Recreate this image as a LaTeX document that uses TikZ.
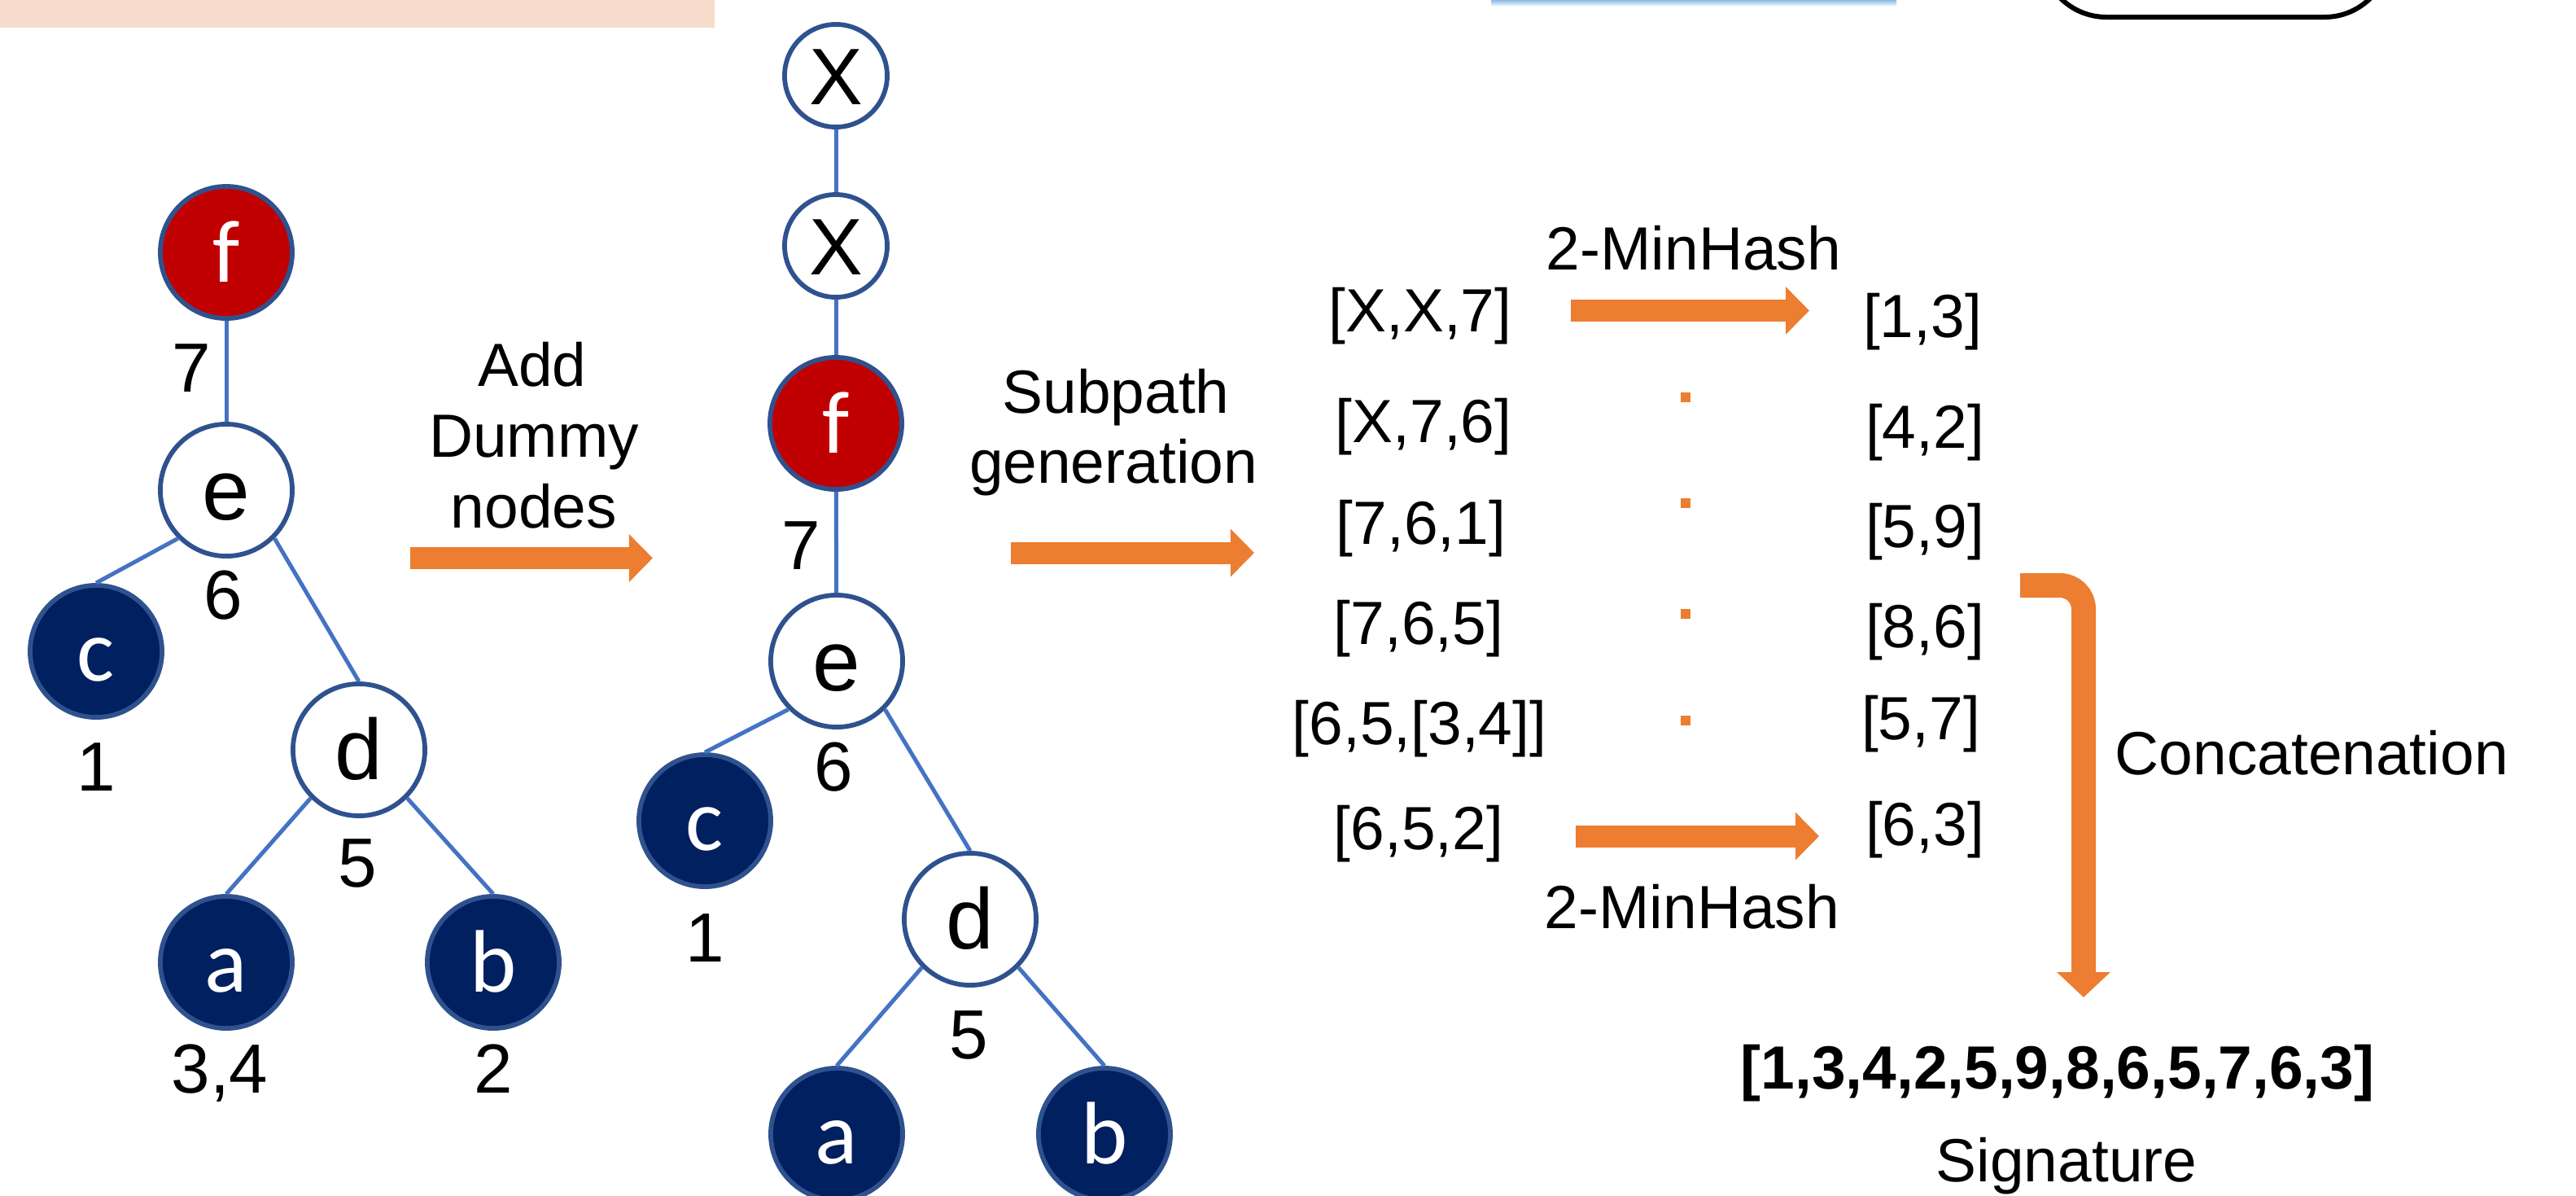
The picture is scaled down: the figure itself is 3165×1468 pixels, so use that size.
\documentclass[tikz,border=0pt]{standalone}
\usepackage{fontspec}
\setmainfont{Liberation Sans}
\newfontfamily\calfont{Carlito}
\usetikzlibrary{arrows.meta}
\definecolor{navy}{HTML}{002060}
\definecolor{nodeedge}{HTML}{2F528F}
\definecolor{darkred}{HTML}{C00000}
\definecolor{edgeblue}{HTML}{4472C4}
\definecolor{orng}{HTML}{ED7D31}
\definecolor{peach}{HTML}{F8DCCB}
\definecolor{blurblue}{HTML}{8DBBE3}
\tikzset{
  tnode/.style={circle, draw=nodeedge, line width=0.058cm, minimum size=1.62cm, inner sep=0pt, text height=0.72cm, text depth=0pt},
  leafnode/.style={tnode, fill=navy, text=white, font=\calfont\fontsize{31}{31}\selectfont},
  rootnode/.style={tnode, fill=darkred, text=white, font=\calfont\fontsize{31}{31}\selectfont},
  innernode/.style={tnode, fill=white, font=\fontsize{30}{30}\selectfont},
  dummynode/.style={tnode, fill=white, minimum size=1.26cm, text height=0.70cm, font=\fontsize{28}{28}\selectfont},
  link/.style={draw=edgeblue, line width=0.05cm},
  lbl/.style={anchor=base, inner sep=0pt, font=\fontsize{24.3}{24.3}\selectfont},
  txt/.style={anchor=base, inner sep=0pt, font=\fontsize{21.3}{25}\selectfont},
  btxt/.style={anchor=base, inner sep=0pt, font=\bfseries\fontsize{21.3}{25}\selectfont},
  blockarrow/.style={draw=orng, line width=0.27cm, -{Triangle[length=0.29cm, width=0.57cm]}},
  dotmark/.style={fill=orng},
}
\begin{document}
\begin{tikzpicture}[x=0.01cm, y=-0.01cm]
\useasboundingbox (0,0) rectangle (3165,1468);
\clip (0,0) rectangle (3165,1468);

% top cut-off fragments
\fill[peach] (0,0) rectangle (878,34);
\shade[top color=blurblue, bottom color=white] (1832,0) rectangle (2330,8);
\draw[black, line width=0.06cm, rounded corners=0.8cm] (2508,-200) rectangle (2936,21);

% ---------- left tree ----------
\node[rootnode]  (f1) at (278,310) {f};
\node[innernode] (e1) at (278,602) {e};
\node[leafnode]  (c1) at (118,800) {c};
\node[innernode] (d1) at (441,921) {d};
\node[leafnode]  (a1) at (278,1182) {a};
\node[leafnode]  (b1) at (606,1182) {b};
\draw[link] (f1) -- (e1);
\draw[link] (e1.south west) -- (c1.north);
\draw[link] (e1.south east) -- (d1.north);
\draw[link] (d1.south west) -- (a1.north);
\draw[link] (d1.south east) -- (b1.north);
\node[lbl] (l7a) at (235,481) {7};
\node[lbl] (l6a) at (274,760) {6};
\node[lbl] (l1a) at (118,971) {1};
\node[lbl] (l5a) at (439,1089) {5};
\node[lbl] (l34a) at (270,1342) {3,4};
\node[lbl] (l2a) at (606,1342) {2};

% ---------- Add dummy nodes ----------
\node[txt] (add1) at (654,474) {Add};
\node[txt] (add2) at (656,561) {Dummy};
\node[txt] (add3) at (656,648) {nodes};
\coordinate (ar1s) at (504,685.5);
\coordinate (ar1t) at (802,685.5);
\draw[blockarrow] (ar1s) -- (ar1t);

% ---------- middle tree ----------
\node[dummynode] (x1) at (1027,93) {X};
\node[dummynode] (x2) at (1027,302) {X};
\node[rootnode]  (f2) at (1027,520) {f};
\node[innernode] (e2) at (1028,812) {e};
\node[leafnode]  (c2) at (866,1008) {c};
\node[innernode] (d2) at (1192,1129) {d};
\node[leafnode]  (a2) at (1028,1393) {a};
\node[leafnode]  (b2) at (1357,1393) {b};
\draw[link] (x1) -- (x2);
\draw[link] (x2) -- (f2);
\draw[link] (f2) -- (e2);
\draw[link] (e2.south west) -- (c2.north);
\draw[link] (e2.south east) -- (d2.north);
\draw[link] (d2.south west) -- (a2.north);
\draw[link] (d2.south east) -- (b2.north);
\node[lbl] (l7b) at (984,699) {7};
\node[lbl] (l6b) at (1024,971) {6};
\node[lbl] (l1b) at (866,1181) {1};
\node[lbl] (l5b) at (1190,1300) {5};

% ---------- Subpath generation ----------
\node[txt] (sub1) at (1371,507) {Subpath};
\node[txt] (sub2) at (1368,593) {generation};
\coordinate (ar2s) at (1242,679);
\coordinate (ar2t) at (1541,679);
\draw[blockarrow] (ar2s) -- (ar2t);

% ---------- subpaths ----------
\node[txt] (p1) at (1745,407) {[X,X,7]};
\node[txt] (p2) at (1749,543) {[X,7,6]};
\node[txt] (p3) at (1746,668) {[7,6,1]};
\node[txt] (p4) at (1743,791) {[7,6,5]};
\node[txt] (p5) at (1744,914) {[6,5,[3,4]]};
\node[txt] (p6) at (1743,1043) {[6,5,2]};

\node[txt] (h1) at (2362,414) {[1,3]};
\node[txt] (h2) at (2365,550) {[4,2]};
\node[txt] (h3) at (2365,672) {[5,9]};
\node[txt] (h4) at (2365,795) {[8,6]};
\node[txt] (h5) at (2360,908) {[5,7]};
\node[txt] (h6) at (2365,1038) {[6,3]};

\node[txt] (mh1) at (2081,331) {2-MinHash};
\node[txt] (mh2) at (2079,1140) {2-MinHash};
\coordinate (ar3s) at (1930,381.5);
\coordinate (ar3t) at (2223,381.5);
\draw[blockarrow] (ar3s) -- (ar3t);
\coordinate (ar4s) at (1936,1027);
\coordinate (ar4t) at (2235,1027);
\draw[blockarrow] (ar4s) -- (ar4t);

\fill[dotmark] (2065,482) rectangle (2077,494);
\fill[dotmark] (2065,612) rectangle (2077,624);
\fill[dotmark] (2065,748) rectangle (2077,760);
\fill[dotmark] (2065,879) rectangle (2077,891);

% ---------- concatenation ----------
\coordinate (cs) at (2482,719);
\coordinate (cc) at (2560,719);
\coordinate (ct) at (2560,1225);
\draw[draw=orng, line width=0.30cm, rounded corners=0.29cm, -{Triangle[length=0.31cm, width=0.64cm]}] (cs) -- (cc) -- (ct);
\node[txt, anchor=base west] (conc) at (2598,951) {Concatenation};

\node[btxt] (sig) at (2528,1337) {[1,3,4,2,5,9,8,6,5,7,6,3]};
\node[txt] (sigl) at (2539,1451) {Signature};
\end{tikzpicture}
\end{document}
